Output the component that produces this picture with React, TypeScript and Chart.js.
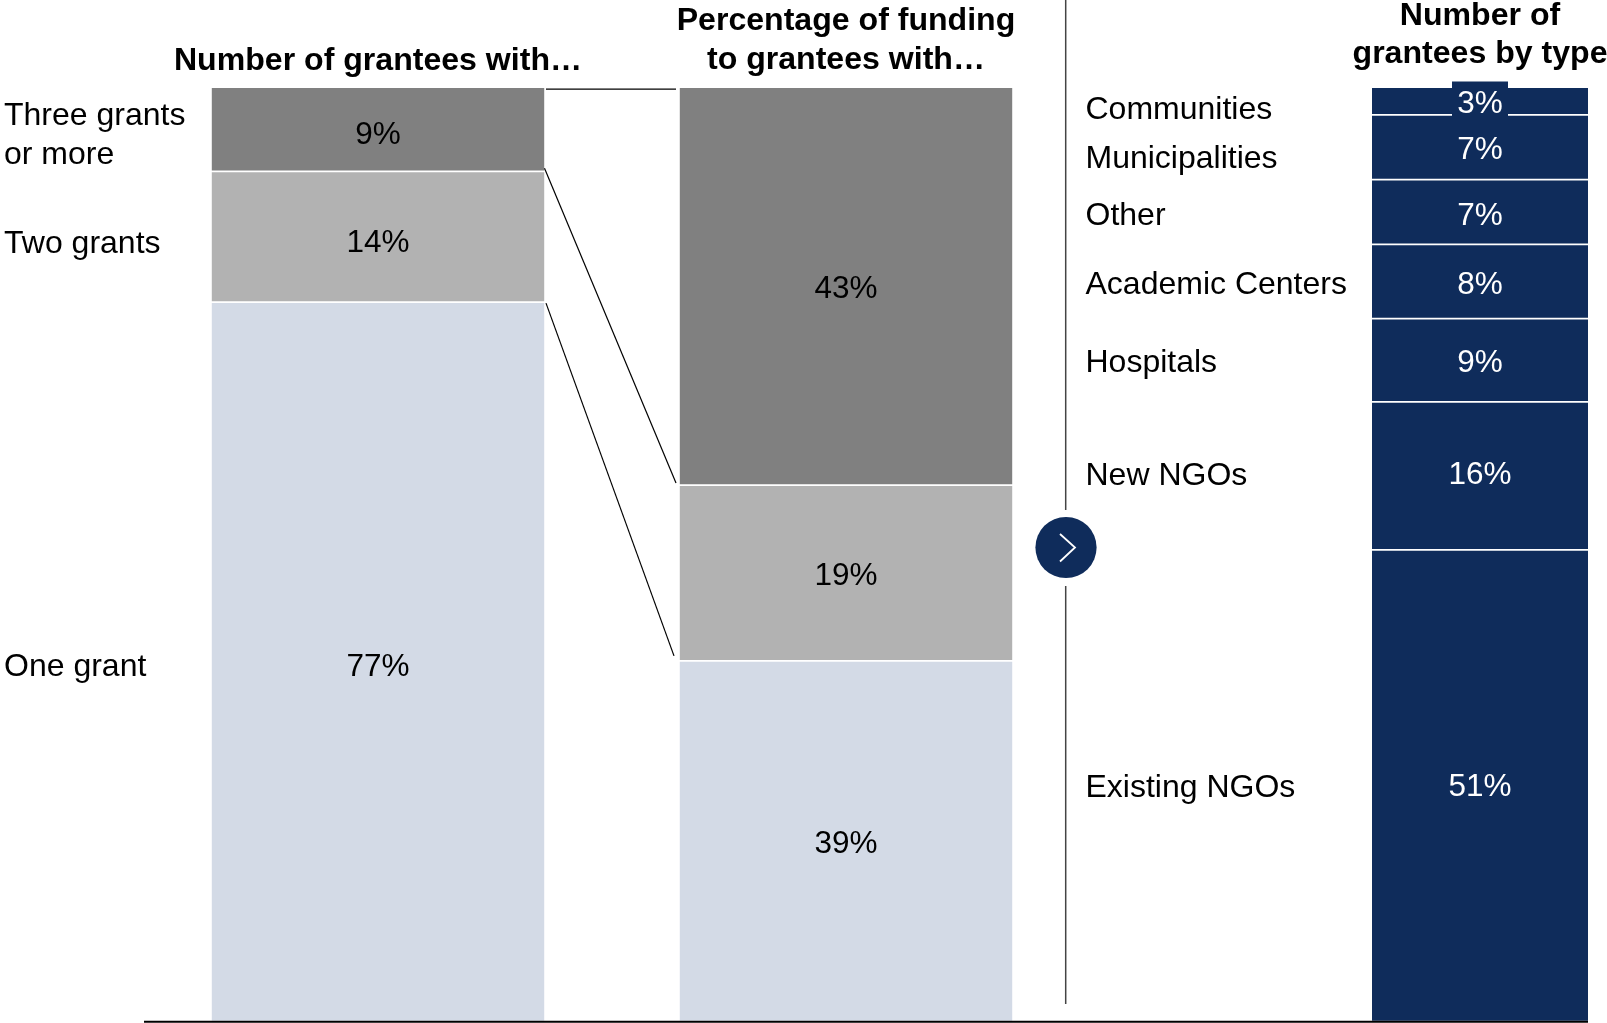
import React, { useEffect, useRef } from "react";
import { Chart, registerables } from "chart.js";

Chart.register(...registerables);

// Share of grantees by number of grants, listed from the bottom segment up
const grantCategories = ["One grant", "Two grants", "Three grants\nor more"];
const granteeShares = [77, 14, 9];
const fundingShares = [39, 19, 43];

// Share of grantees by organisation type, listed from the bottom segment up
const typeCategories = [
  "Existing NGOs",
  "New NGOs",
  "Hospitals",
  "Academic Centers",
  "Other",
  "Municipalities",
  "Communities",
];
const typeShares = [51, 16, 9, 8, 7, 7, 3];

const granteeTitle = ["Number of grantees with…"];
const fundingTitle = ["Percentage of funding", "to grantees with…"];
const typeTitle = ["Number of", "grantees by type"];

const WIDTH = 1607;
const HEIGHT = 1023;
const PLOT_TOP = 87.2;
const PLOT_BOTTOM_GAP = 1.3;
const FONT = '"Liberation Sans", Arial, sans-serif';
const GRANT_COLORS = ["#D3DAE6", "#B2B2B2", "#808080"];
const NAVY = "#0F2C5B";

const sum = (list: number[]) => list.reduce((a, b) => a + b, 0);

function line(ctx: CanvasRenderingContext2D, x1: number, y1: number, x2: number, y2: number) {
  ctx.beginPath();
  ctx.moveTo(x1, y1);
  ctx.lineTo(x2, y2);
  ctx.stroke();
}

function drawHeading(ctx: CanvasRenderingContext2D, rows: string[], x: number, firstY: number, leading: number) {
  ctx.textAlign = "center";
  ctx.textBaseline = "middle";
  ctx.fillStyle = "#000000";
  ctx.font = `bold 32.1px ${FONT}`;
  rows.forEach((row, r) => ctx.fillText(row, x, firstY + r * leading));
}

function drawCategory(ctx: CanvasRenderingContext2D, name: string, x: number, y: number) {
  ctx.textAlign = "left";
  ctx.textBaseline = "middle";
  ctx.fillStyle = "#000000";
  ctx.font = `32px ${FONT}`;
  const rows = name.split("\n");
  rows.forEach((row, r) => ctx.fillText(row, x, y + (r - (rows.length - 1) / 2) * 39));
}

const segmentY = (chart: any, datasetIndex: number) =>
  chart.getDatasetMeta(datasetIndex).data[0].getCenterPoint().y + 3;

// Vertical label adjustments, per segment from the bottom up
const granteeLabelNudges = [2, 4, 3];
const fundingLabelNudges = [0, 0, 0];
const typeLabelNudges = [-1, -3, 0, 1, 1, 0, 0];
const typeNameNudges = [-1, -3, 0, 1, 1, 9, 6];

// Left column: heading and grant category names
function drawGranteeExtras(chart: any) {
  const ctx: CanvasRenderingContext2D = chart.ctx;
  drawHeading(ctx, granteeTitle, 378, 61, 39);
  grantCategories.forEach((name, i) => drawCategory(ctx, name, 4, segmentY(chart, i) + granteeLabelNudges[i]));
}

// Middle column: heading and the connectors that run back to the left column
function drawFundingExtras(chart: any) {
  const ctx: CanvasRenderingContext2D = chart.ctx;
  drawHeading(ctx, fundingTitle, 846, 21.5, 39);
  const y = chart.scales.y;
  const leftY = (value: number) => y.top + (1 - value / sum(granteeShares)) * y.height;
  ctx.strokeStyle = "#000000";
  ctx.lineWidth = 1.2;
  line(ctx, 546, leftY(100) + 2, 676, y.getPixelForValue(sum(fundingShares)) + 2);
  line(ctx, 544.5, leftY(granteeShares[0] + granteeShares[1]) - 3, 676, y.getPixelForValue(fundingShares[0] + fundingShares[1]) - 2);
  line(ctx, 546, leftY(granteeShares[0]) + 1, 674, y.getPixelForValue(fundingShares[0]) - 5);
}

// Right column: heading, type names, divider with arrow badge, and the baseline
function drawTypeExtras(chart: any) {
  const ctx: CanvasRenderingContext2D = chart.ctx;
  drawHeading(ctx, typeTitle, 1480, 16.5, 38);
  typeCategories.forEach((name, i) => drawCategory(ctx, name, 1085.5, segmentY(chart, i) + typeNameNudges[i]));

  ctx.strokeStyle = "#444444";
  ctx.lineWidth = 1.5;
  line(ctx, 1065.7, 0, 1065.7, 510);
  line(ctx, 1065.7, 586, 1065.7, 1004);
  ctx.fillStyle = NAVY;
  ctx.beginPath();
  ctx.arc(1066, 547.5, 30.6, 0, Math.PI * 2);
  ctx.fill();
  ctx.strokeStyle = "#FFFFFF";
  ctx.lineWidth = 1.8;
  ctx.beginPath();
  ctx.moveTo(1060, 534);
  ctx.lineTo(1075, 547.5);
  ctx.lineTo(1060, 561.5);
  ctx.stroke();

  ctx.strokeStyle = "#000000";
  ctx.lineWidth = 2;
  const base = chart.scales.y.bottom;
  line(ctx, 144, base, 1588, base);
}

const columns = [
  { name: "Grantees", left: 211.5, right: 544.5, values: granteeShares, nudges: granteeLabelNudges, colors: GRANT_COLORS, text: "#000000", extras: drawGranteeExtras },
  { name: "Funding", left: 679.5, right: 1012.5, values: fundingShares, nudges: fundingLabelNudges, colors: GRANT_COLORS, text: "#000000", extras: drawFundingExtras },
  { name: "Types", left: 1372, right: 1588, values: typeShares, nudges: typeLabelNudges, colors: typeShares.map(() => NAVY), text: "#FFFFFF", extras: drawTypeExtras },
];

// Value labels centred on their segments, plus the column's own furniture
const columnText = {
  id: "columnText",
  afterDatasetsDraw(chart: any, _args: any, opts: any) {
    const ctx: CanvasRenderingContext2D = chart.ctx;
    const col = columns[opts.column];
    const centerX = (col.left + col.right) / 2;
    ctx.save();
    col.values.forEach((value, i) => {
      if (col.name === "Types" && i === col.values.length - 1) {
        // The thinnest segment's label sits on a tab that rises above the bar
        ctx.fillStyle = NAVY;
        ctx.fillRect(centerX - 28, 81.5, 56, 34.5);
      }
      ctx.font = `31.5px ${FONT}`;
      ctx.textAlign = "center";
      ctx.textBaseline = "middle";
      ctx.fillStyle = col.text;
      ctx.fillText(`${value}%`, centerX, segmentY(chart, i) + col.nudges[i]);
    });
    col.extras(chart);
    ctx.restore();
  },
};

export default function App() {
  const canvases = useRef<(HTMLCanvasElement | null)[]>([]);

  useEffect(() => {
    const charts = columns.map((col, c) =>
      new Chart(canvases.current[c] as HTMLCanvasElement, {
        type: "bar",
        data: {
          labels: [col.name],
          datasets: col.values.map((value, i) => ({
            data: [value],
            backgroundColor: col.colors[i],
            borderColor: "#FFFFFF",
            borderWidth: { top: 1.2, bottom: 1.2, left: 0, right: 0 },
            borderSkipped: false,
            barPercentage: 1,
            categoryPercentage: 1,
          })),
        },
        options: {
          animation: false,
          responsive: false,
          devicePixelRatio: 1,
          layout: {
            padding: { left: col.left, right: WIDTH - col.right, top: PLOT_TOP, bottom: PLOT_BOTTOM_GAP },
          },
          plugins: {
            legend: { display: false },
            tooltip: { enabled: false },
            columnText: { column: c },
          },
          scales: {
            x: { display: false, stacked: true },
            y: { display: false, stacked: true, min: 0, max: sum(col.values) },
          },
        } as any,
        plugins: [columnText],
      })
    );
    return () => charts.forEach((chart) => chart.destroy());
  }, []);

  return (
    <div style={{ position: "absolute", left: 0, top: 0, width: WIDTH, height: HEIGHT, background: "#FFFFFF" }}>
      {columns.map((col, c) => (
        <canvas
          key={col.name}
          ref={(el) => {
            canvases.current[c] = el;
          }}
          width={WIDTH}
          height={HEIGHT}
          style={{ position: "absolute", left: 0, top: 0, display: "block" }}
        />
      ))}
    </div>
  );
}
